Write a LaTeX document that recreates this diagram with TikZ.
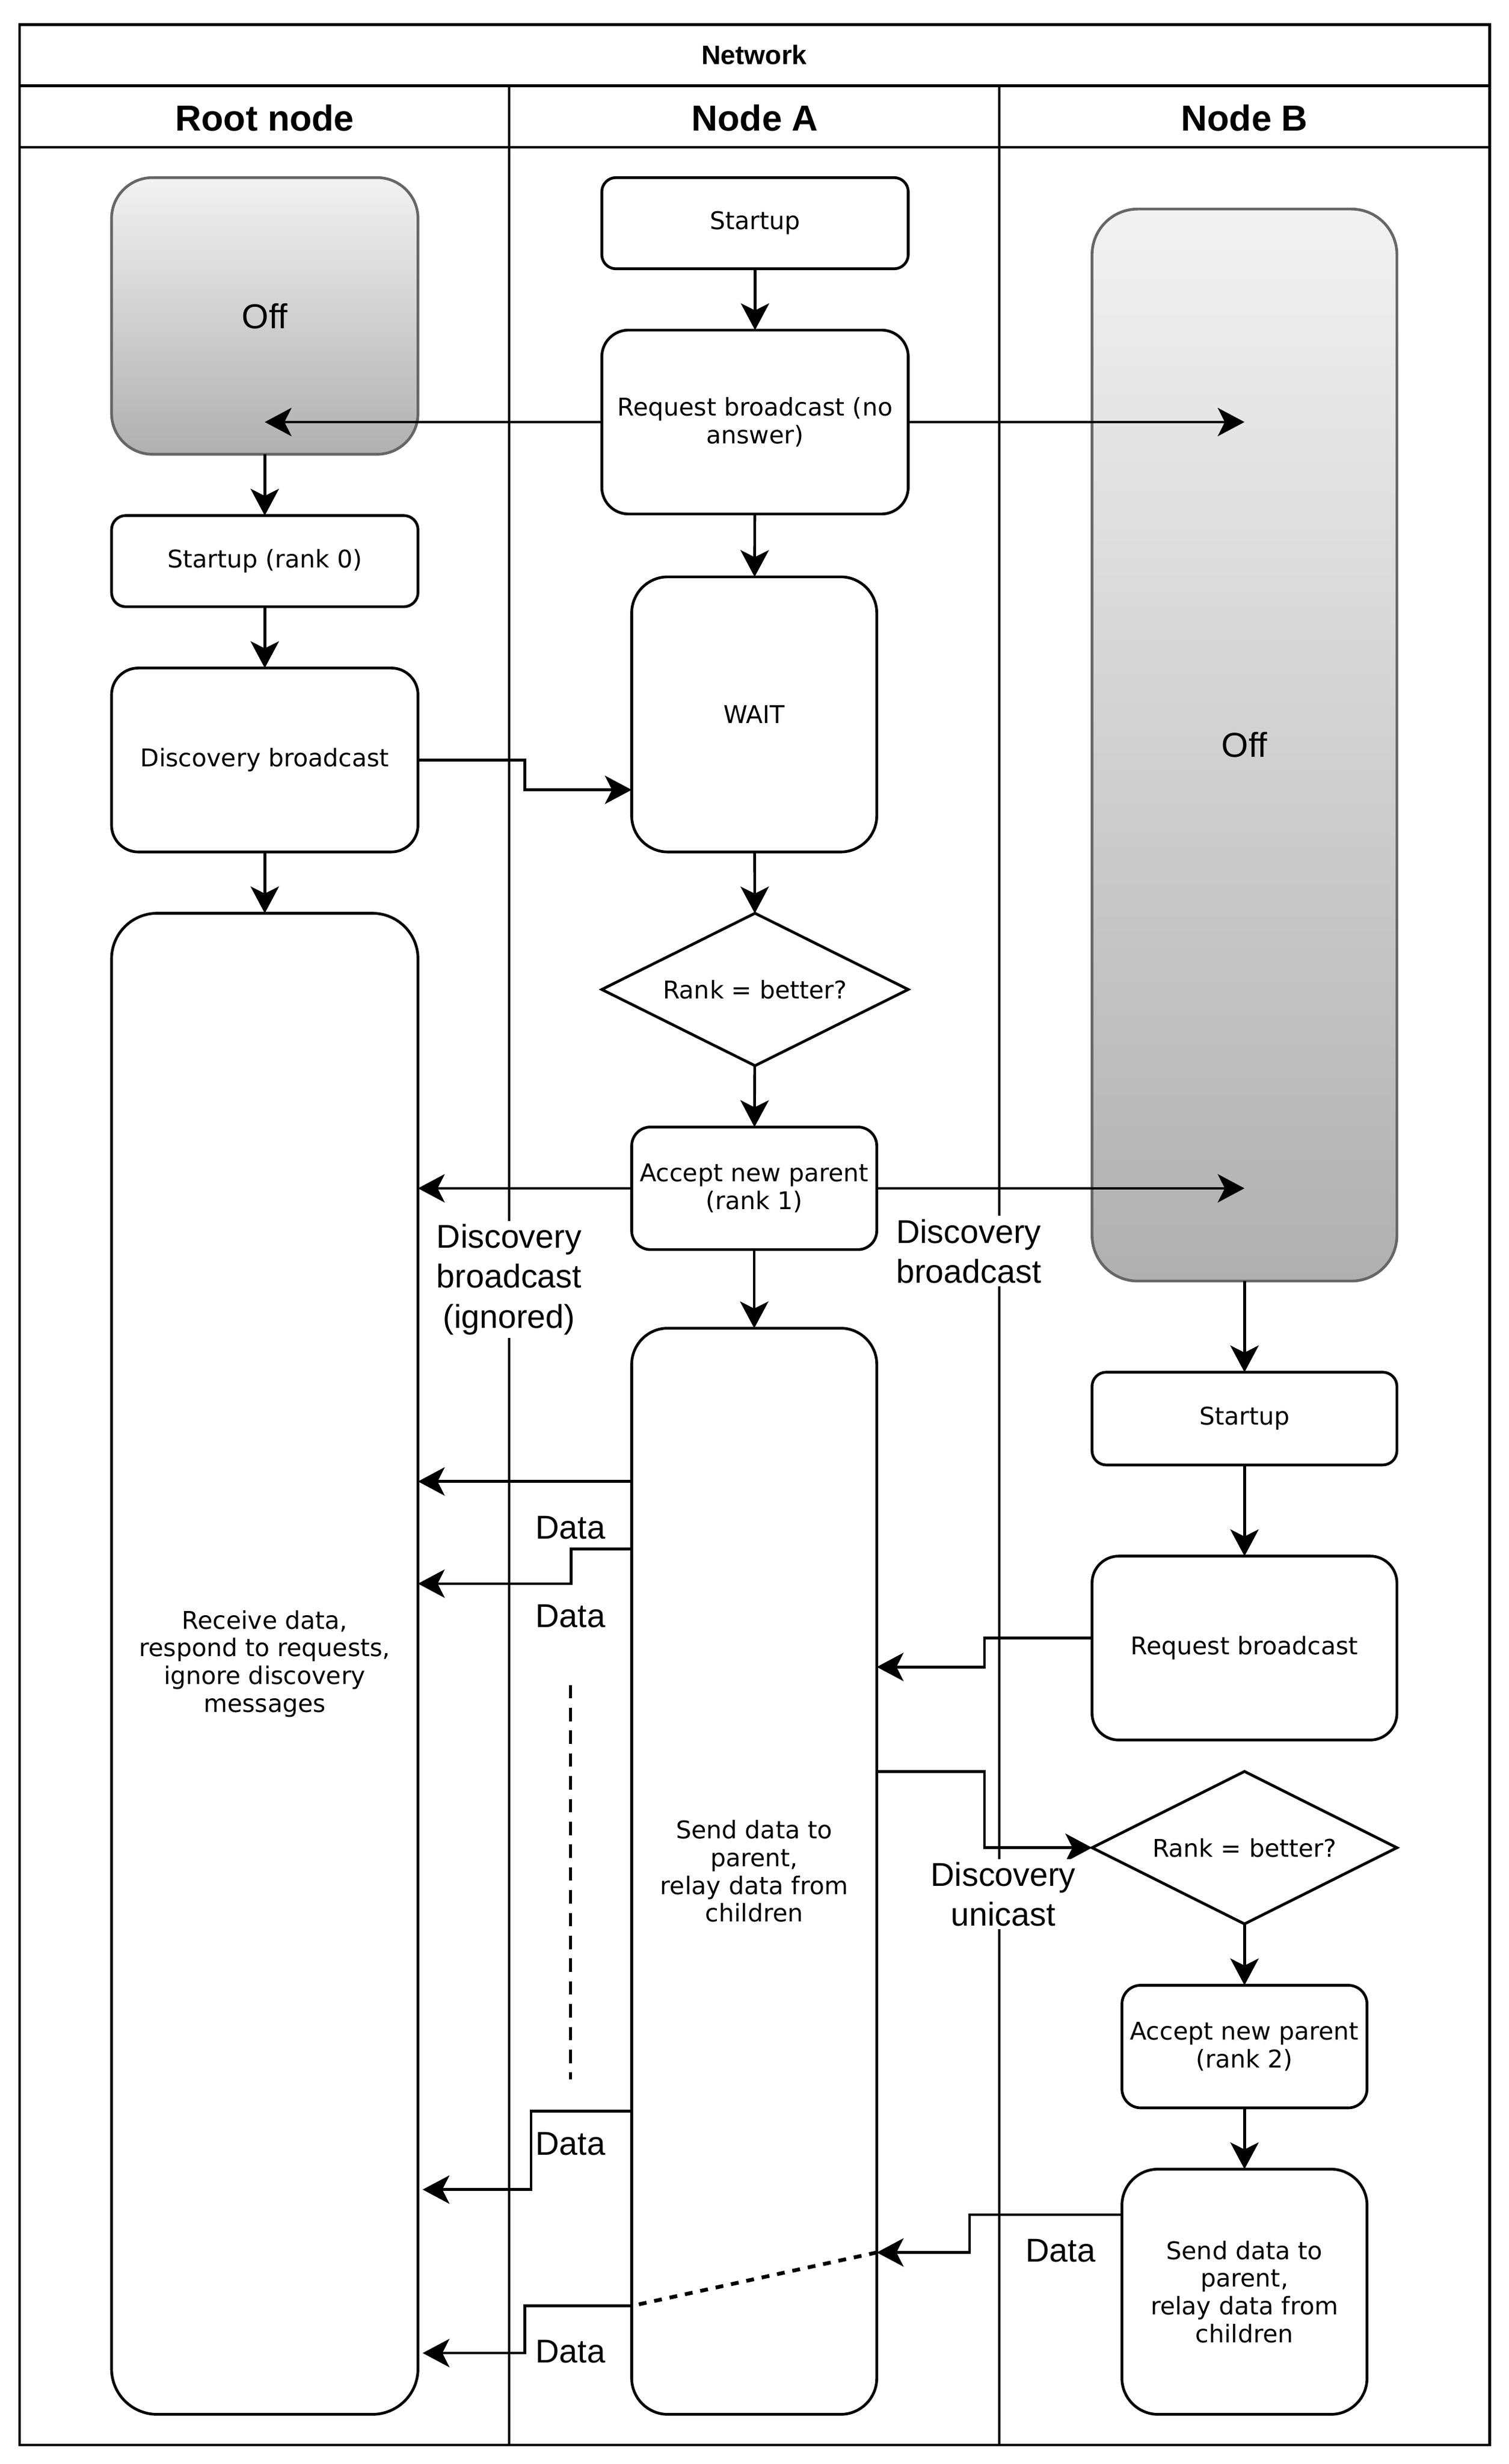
\documentclass[tikz,border=0pt]{standalone}
\usepackage{fontspec}
\setmainfont{DejaVu Sans}
\newfontfamily\labfont{Liberation Sans}
\usetikzlibrary{arrows.meta,shapes.geometric,calc}
\definecolor{offtop}{HTML}{F2F2F2}
\definecolor{offbot}{HTML}{B0B0B0}
\definecolor{offline}{HTML}{666666}
\newcommand{\txtbox}{\fontsize{15.5}{17.6}\selectfont}
\newcommand{\txtlab}{\labfont\fontsize{21}{25.4}\selectfont}
\newcommand{\txtoff}{\labfont\fontsize{22}{26}\selectfont}
\newcommand{\txthead}{\labfont\bfseries\fontsize{23}{27}\selectfont}
\newcommand{\txtnet}{\labfont\bfseries\fontsize{17}{20}\selectfont}
\begin{document}
\begin{tikzpicture}[x=1pt,y=-1pt,line width=1.75pt,
  stbox/.style={draw,rectangle,inner sep=2pt,outer sep=0pt,align=center,font=\txtbox},
  offbox/.style={rectangle,draw=offline,top color=offtop,bottom color=offbot,inner sep=0pt,outer sep=0pt,font=\txtoff},
  decide/.style={draw,diamond,aspect=2,inner sep=0pt,outer sep=0pt,font=\txtbox,minimum width=195pt,minimum height=97pt},
  arr/.style={-{Stealth[length=17pt,width=18pt,inset=4.5pt]}},
  lbl/.style={font=\txtlab,align=center,inner sep=1pt},
  lblw/.style={font=\txtlab,align=center,inner sep=2pt,fill=white},
  dotline/.style={line width=2.4pt,dash pattern=on 5pt off 5pt},
  ellip/.style={line width=1.75pt,dash pattern=on 8.5pt off 6pt}]
\useasboundingbox (0,0) rectangle (960,1567.6);
% pool and lanes
\draw (12.5,15.6) rectangle (948,1555.5);
\draw (12.5,54.6) -- (948,54.6);
\draw (12.5,93.6) -- (948,93.6);
\draw (324,54.6) -- (324,1555.5);
\draw (636,54.6) -- (636,1555.5);
\node[font=\txtnet] (net) at (480,35) {Network};
\node[font=\txthead] (hroot) at (168.5,75) {Root node};
\node[font=\txthead] (ha) at (480.5,75) {Node A};
\node[font=\txthead] (hb) at (792,75) {Node B};
% root lane
\node[offbox,minimum width=195pt,minimum height=176pt,rounded corners=26pt] (rOff) at (168.5,201) {Off};
\node[stbox,minimum width=195pt,minimum height=58pt,rounded corners=9pt] (rStart) at (168.5,357) {Startup (rank 0)};
\node[stbox,minimum width=195pt,minimum height=117pt,rounded corners=17pt] (rDisc) at (168.5,483.5) {Discovery broadcast};
\node[stbox,minimum width=195pt,minimum height=955pt,rounded corners=29pt] (rRecv) at (168.5,1058.5) {Receive data,\\respond to requests,\\ignore discovery\\messages};
% node A lane
\node[stbox,minimum width=195pt,minimum height=58pt,rounded corners=9pt] (aStart) at (480.5,142) {Startup};
\node[stbox,minimum width=195pt,minimum height=117pt,rounded corners=17pt] (aReq) at (480.5,268.5) {Request broadcast (no\\answer)};
\node[stbox,minimum width=156pt,minimum height=175pt,rounded corners=23pt] (aWait) at (480,454.5) {WAIT};
\node[decide] (aRank) at (480.5,629.5) {Rank = better?};
\node[stbox,minimum width=156pt,minimum height=78pt,rounded corners=12pt] (aAcc) at (480,756) {Accept new parent\\(rank 1)};
\node[stbox,minimum width=156pt,minimum height=691pt,rounded corners=23pt] (aSend) at (480,1190.5) {Send data to\\parent,\\relay data from\\children};
% node B lane
\node[offbox,minimum width=194pt,minimum height=682pt,rounded corners=29pt] (bOff) at (792,474) {Off};
\node[stbox,minimum width=194pt,minimum height=59pt,rounded corners=9pt] (bStart) at (792,902.5) {Startup};
\node[stbox,minimum width=194pt,minimum height=117pt,rounded corners=17pt] (bReq) at (792,1048.5) {Request broadcast};
\node[decide,minimum width=194pt] (bRank) at (792,1175.5) {Rank = better?};
\node[stbox,minimum width=156pt,minimum height=78pt,rounded corners=12pt] (bAcc) at (792,1302) {Accept new parent\\(rank 2)};
\node[stbox,minimum width=156pt,minimum height=156pt,rounded corners=23pt] (bSend) at (792,1458) {Send data to\\parent,\\relay data from\\children};
% vertical flow arrows
\draw[arr] (rOff) -- (rStart);
\draw[arr] (rStart) -- (rDisc);
\draw[arr] (rDisc) -- (rRecv);
\draw[arr] (aStart) -- (aReq);
\draw[arr] (aReq) -- (aWait);
\draw[arr] (aWait) -- (aRank);
\draw[arr] (aRank) -- (aAcc);
\draw[arr] (aAcc) -- (aSend);
\draw[arr] (bOff) -- (bStart);
\draw[arr] (bStart) -- (bReq);
\draw[arr] (bRank) -- (bAcc);
\draw[arr] (bAcc) -- (bSend);
% messages
\draw[arr] (aReq.west) -- (aReq.west -| rOff.center);
\draw[arr] (aReq.east) -- (aReq.east -| bOff.center);
\draw[arr] (rDisc.east) -- ++(68,0) |- ($(aWait.west)+(0,48)$);
\draw[arr] (aAcc.west) -- (aAcc.west -| rRecv.east);
\draw[arr] (aAcc.east) -- (aAcc.east -| bOff.center);
\draw[arr] ($(aSend.north west)+(0,97.5)$) coordinate (s1) -- (s1 -| rRecv.east);
\draw[arr] ($(aSend.north west)+(0,140.5)$) -- ++(-38.5,0) |- ($(rRecv.north east)+(0,426.5)$);
\draw[ellip] (363,1072) -- (363,1323);
\draw[arr] ($(aSend.north west)+(0,498)$) -- ++(-64,0) |- ($(rRecv.north east)+(3,812)$);
\draw[arr] ($(aSend.north west)+(0,622)$) -- ++(-68,0) |- ($(rRecv.north east)+(3,916)$);
\draw[arr] ($(bReq.north west)+(0,52)$) -- ++(-68.5,0) |- ($(aSend.north east)+(0,215.5)$);
\draw[arr] ($(aSend.north east)+(0,282)$) -- ++(68.5,0) |- (bRank.west);
\draw[arr] ($(bSend.north west)+(0,29)$) -- ++(-97,0) |- ($(aSend.north east)+(0,588)$);
\draw[dotline] ($(aSend.north east)+(0,588)$) -- ($(aSend.north west)+(0,622)$);
% labels
\node[lblw] (l1) at (324,814) {Discovery\\broadcast\\(ignored)};
\node[lblw] (l2) at (616.5,796) {Discovery\\broadcast};
\node[lblw] (l3) at (638.5,1205) {Discovery\\unicast};
\node[lbl] (d1) at (363,972) {Data};
\node[lbl] (d2) at (363,1028) {Data};
\node[lbl] (d3) at (363,1364) {Data};
\node[lbl] (d4) at (363,1496) {Data};
\node[lbl] (d5) at (675,1432) {Data};
\end{tikzpicture}
\end{document}
